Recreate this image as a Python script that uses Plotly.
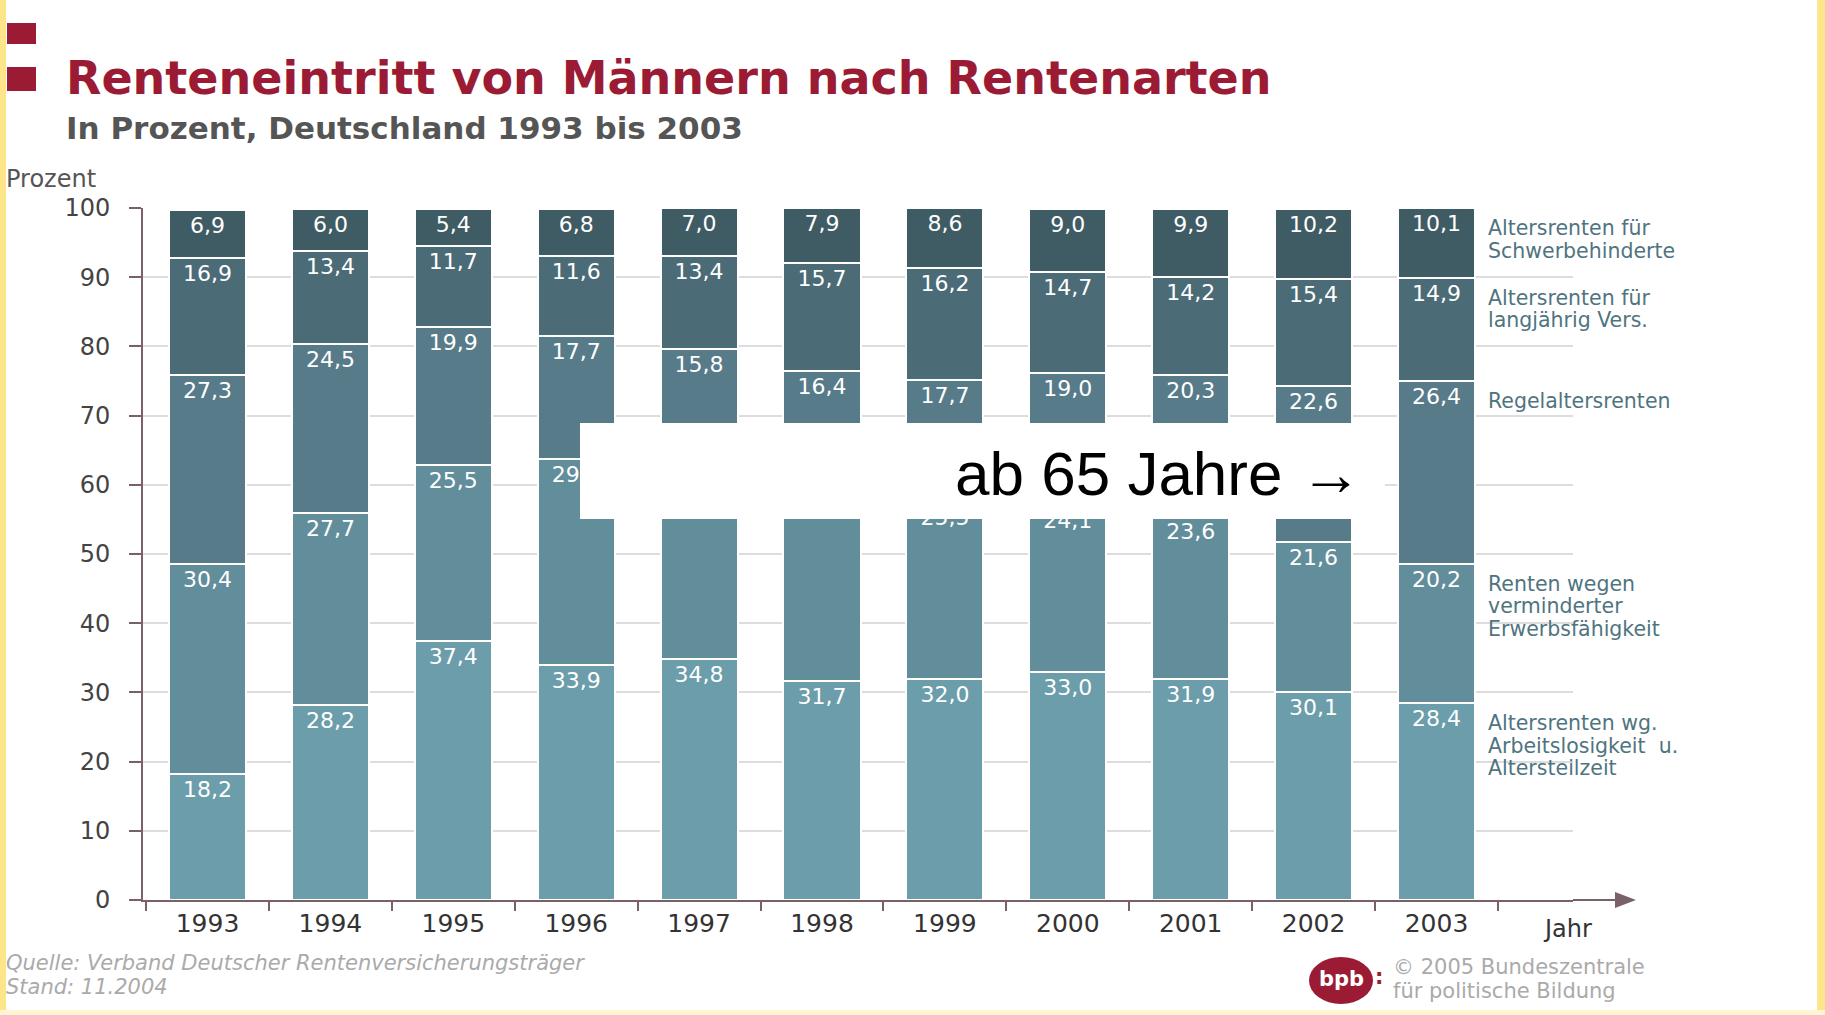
import plotly.graph_objects as go

years = ["1993", "1994", "1995", "1996", "1997", "1998", "1999", "2000", "2001", "2002", "2003"]
arbeitslos = [18.2, 28.2, 37.4, 33.9, 34.8, 31.7, 32.0, 33.0, 31.9, 30.1, 28.4]
erwerb = [30.4, 27.7, 25.5, 29.9, 29.0, 28.3, 25.5, 24.1, 23.6, 21.6, 20.2]
regel = [27.3, 24.5, 19.9, 17.7, 15.8, 16.4, 17.7, 19.0, 20.3, 22.6, 26.4]
langj = [16.9, 13.4, 11.7, 11.6, 13.4, 15.7, 16.2, 14.7, 14.2, 15.4, 14.9]
schwer = [6.9, 6.0, 5.4, 6.8, 7.0, 7.9, 8.6, 9.0, 9.9, 10.2, 10.1]

series = [
    (["Altersrenten wg.", "Arbeitslosigkeit  u.", "Altersteilzeit"], arbeitslos, "#6b9dab"),
    (["Renten wegen", "verminderter", "Erwerbsfähigkeit"], erwerb, "#628d9a"),
    (["Regelaltersrenten"], regel, "#577b89"),
    (["Altersrenten für", "langjährig Vers."], langj, "#4b6b76"),
    (["Altersrenten für", "Schwerbehinderte"], schwer, "#3f5b63"),
]

W, H = 1825, 1015
L, R, T, B = 143, 1573, 208, 900


def px(x):
    return (x - L) / (R - L)


def py(y):
    return (B - y) / (B - T)


AXC = "#7a6168"
FONT = "DejaVu Sans"

fig = go.Figure()
for lines, vals, col in series:
    fig.add_trace(go.Bar(
        x=years, y=vals, name=" ".join(lines),
        marker=dict(color=col, line=dict(color="white", width=2)),
        text=[f"{v:.1f}".replace(".", ",") for v in vals],
        textposition="inside", insidetextanchor="end", textangle=0,
        constraintext="none",
        insidetextfont=dict(color="white", size=22, family=FONT),
        hoverinfo="skip",
    ))

shapes = []
# yellow frame
shapes.append(dict(type="rect", xref="paper", yref="paper", x0=px(0), x1=px(6), y0=py(0), y1=py(H),
                   fillcolor="#fde68a", line=dict(width=0), layer="below"))
shapes.append(dict(type="rect", xref="paper", yref="paper", x0=px(1817), x1=px(W), y0=py(0), y1=py(H),
                   fillcolor="#fde68a", line=dict(width=0), layer="below"))
shapes.append(dict(type="rect", xref="paper", yref="paper", x0=px(0), x1=px(W), y0=py(1010), y1=py(H),
                   fillcolor="#fff5d2", line=dict(width=0), layer="below"))
# red squares
for y0, y1 in [(23, 44), (67, 91)]:
    shapes.append(dict(type="rect", xref="paper", yref="paper", x0=px(7), x1=px(36), y0=py(y1), y1=py(y0),
                       fillcolor="#9b1b35", line=dict(width=0)))
# x-axis arrow extension
shapes.append(dict(type="line", xref="paper", yref="paper", x0=1.0, x1=px(1620), y0=0, y1=0,
                   line=dict(color=AXC, width=2)))
shapes.append(dict(type="path", xref="paper", yref="paper",
                   path=f"M {px(1615)} {py(892)} L {px(1636)} {py(900)} L {px(1615)} {py(908)} Z",
                   fillcolor=AXC, line=dict(width=0)))
# white cover box
shapes.append(dict(type="rect", xref="paper", yref="paper", x0=px(580), x1=px(1385), y0=py(519), y1=py(423),
                   fillcolor="white", line=dict(width=0), layer="above"))
# bpb logo
shapes.append(dict(type="circle", xref="paper", yref="paper", x0=px(1309), x1=px(1373), y0=py(1004), y1=py(957),
                   fillcolor="#9b1b35", line=dict(width=0)))


def ann(text, x, y, size, color, xanchor="left", family=FONT, **kw):
    d = dict(text=text, xref="paper", yref="paper", x=px(x), y=py(y), xanchor=xanchor, yanchor="middle",
             showarrow=False, font=dict(family=family, size=size, color=color))
    d.update(kw)
    return d


annotations = []
annotations.append(ann("<b>Renteneintritt von Männern nach Rentenarten</b>", 64, 78, 46, "#9b1b35"))
annotations.append(ann("<b>In Prozent, Deutschland 1993 bis 2003</b>", 64, 128, 31, "#555555"))
annotations.append(ann("Prozent", 4, 179, 24, "#555555"))
annotations.append(ann("Jahr", 1567, 929, 24, "#333333", xanchor="center"))

# right-side series labels, placed at the top of each 2003 segment
cum = 0.0
for lines, vals, col in series:
    cum += vals[-1]
    for i, line in enumerate(lines):
        annotations.append(dict(text=line, xref="paper", yref="y", x=px(1486), y=min(cum, 100),
                                xanchor="left", yanchor="middle", yshift=-(20 + 22.5 * i), showarrow=False,
                                font=dict(family=FONT, size=20.5, color="#4f7480")))

annotations.append(ann("ab 65 Jahre →", 1364, 474, 62, "black", xanchor="right", family="Liberation Sans"))
annotations.append(ann("<i>Quelle: Verband Deutscher Rentenversicherungsträger</i>", 4, 963, 21, "#aaaaaa"))
annotations.append(ann("<i>Stand: 11.2004</i>", 4, 987, 21, "#aaaaaa"))
annotations.append(ann("<b>bpb</b>", 1341, 979, 21, "white", xanchor="center"))
annotations.append(ann("<b>:</b>", 1379, 977, 21, "#9b1b35", xanchor="center"))
annotations.append(ann("© 2005 Bundeszentrale", 1391, 967, 21, "#aaaaaa"))
annotations.append(ann("für politische Bildung", 1391, 991, 21, "#aaaaaa"))

cat_w = 122.9
x_left = (L - 207.5) / cat_w
x_right = (R - 207.5) / cat_w

fig.update_layout(
    width=W, height=H,
    barmode="stack", bargap=0.373,
    showlegend=False,
    margin=dict(l=L, r=W - R, t=T, b=H - B, pad=0),
    paper_bgcolor="white", plot_bgcolor="white",
    shapes=shapes, annotations=annotations,
    xaxis=dict(type="category", range=[x_left, x_right], showline=True, linecolor=AXC, linewidth=2,
               ticks="outside", tickson="boundaries", ticklen=9, tickwidth=2, tickcolor=AXC,
               showgrid=False, zeroline=False,
               tickfont=dict(family=FONT, size=25, color="#333333")),
    yaxis=dict(range=[0, 100], tickvals=list(range(0, 101, 10)), showline=True, linecolor=AXC, linewidth=2,
               ticks="outside", ticklen=12, tickwidth=2, tickcolor=AXC,
               showgrid=True, gridcolor="#dddddd", gridwidth=2, zeroline=False,
               ticklabelstandoff=14,
               tickfont=dict(family=FONT, size=24, color="#444444")),
    uniformtext=dict(minsize=22, mode="show"),
)

fig.write_html("out.html", config={"displayModeBar": False},
               post_script="document.body.style.margin='0';document.body.style.overflow='hidden';")
